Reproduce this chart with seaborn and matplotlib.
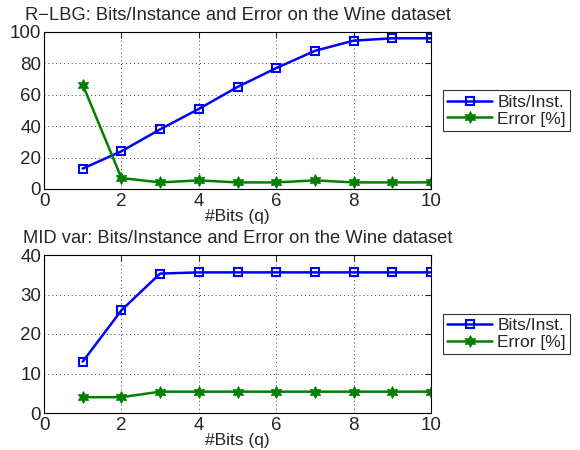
import matplotlib
matplotlib.use("Agg")
import matplotlib.pyplot as plt
import seaborn as sns
import pandas as pd

bits_q = [1, 2, 3, 4, 5, 6, 7, 8, 9, 10]
rlbg_bits = [13, 24, 38, 51, 65, 77, 88, 94.5, 96, 96]
rlbg_err = [66.5, 7, 4.2, 5.5, 4.2, 4.2, 5.5, 4.2, 4.2, 4.2]
mid_bits = [13, 26, 35.3, 35.6, 35.6, 35.6, 35.6, 35.6, 35.6, 35.6]
mid_err = [4, 4, 5.4, 5.4, 5.4, 5.4, 5.4, 5.4, 5.4, 5.4]
titles = ["R\u2212LBG: Bits/Instance and Error on the Wine dataset",
          "MID var: Bits/Instance and Error on the Wine dataset"]
series_names = ["Bits/Inst.", "Error [%]"]

sns.set_style("white")
plt.rcParams['font.family'] = ['Liberation Sans', 'DejaVu Sans']

fig = plt.figure(figsize=(5.8, 4.5), dpi=100)
ax1 = fig.add_axes([44/580, 1-189/450, 387/580, 157/450])
ax2 = fig.add_axes([44/580, 1-413/450, 387/580, 158/450])

for ax, b, e, title, ylim, yt in [
    (ax1, rlbg_bits, rlbg_err, titles[0], (0, 100), [0, 20, 40, 60, 80, 100]),
    (ax2, mid_bits, mid_err, titles[1], (0, 40), [0, 10, 20, 30, 40]),
]:
    df = pd.DataFrame({"q": bits_q * 2, "v": b + e,
                       "s": [series_names[0]] * 10 + [series_names[1]] * 10})
    sns.lineplot(data=df[df.s == series_names[0]], x="q", y="v", ax=ax,
                 color="#0000ff", lw=1.8, marker="s", markersize=5.5,
                 markerfacecolor="none", markeredgecolor="#0000ff", markeredgewidth=1.5,
                 label=series_names[0])
    sns.lineplot(data=df[df.s == series_names[1]], x="q", y="v", ax=ax,
                 color="#007f00", lw=1.8, marker=(6, 1, 0), markersize=8.5,
                 markerfacecolor="#007f00", markeredgecolor="#007f00",
                 label=series_names[1])
    ax.set_xlim(0, 10)
    ax.set_ylim(*ylim)
    ax.set_xticks([0, 2, 4, 6, 8, 10])
    ax.set_yticks(yt)
    ax.grid(True, linestyle=(0, (1, 3)), color="#444444", lw=0.7)
    ax.tick_params(direction="in", top=True, right=True, length=4, labelsize=13.5)
    ax.tick_params(axis="x", pad=3)
    ax.tick_params(axis="y", pad=2)
    for sp in ax.spines.values():
        sp.set_color("black")
        sp.set_linewidth(0.8)
    ax.set_title(title, fontsize=13.2, pad=8.5)
    ax.set_xlabel("#Bits (q)", fontsize=12.5, labelpad=-0.5)
    ax.set_ylabel("")
    leg = ax.legend(loc="center left", bbox_to_anchor=(1.03, 0.5), frameon=True,
                    fancybox=False, edgecolor="black", fontsize=12.5,
                    handlelength=2.6, borderpad=0.25, labelspacing=0.1, handletextpad=0.3,
                    borderaxespad=0)
    leg.get_frame().set_linewidth(0.8)

fig.savefig("out.png", dpi=100)
